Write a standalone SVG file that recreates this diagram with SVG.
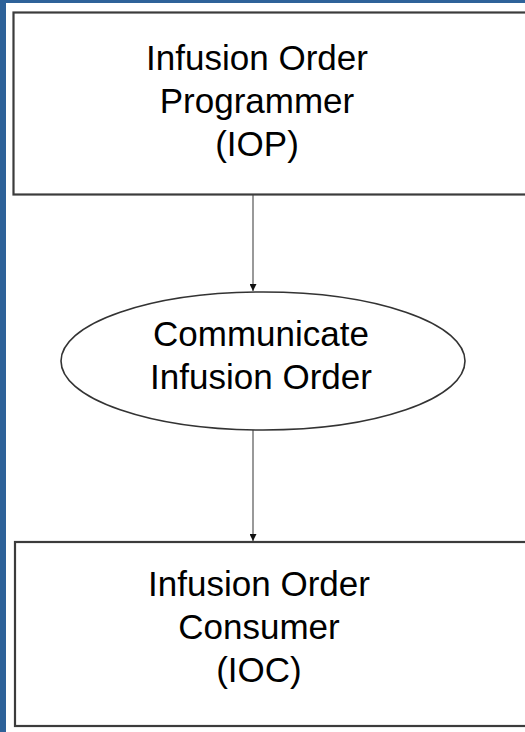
<svg xmlns="http://www.w3.org/2000/svg" width="525" height="732" viewBox="0 0 525 732">
<defs>
<style>
.box{fill:#fff;stroke:#3c3c3c;stroke-width:2.2}
.ell{fill:#fff;stroke:#333;stroke-width:1.6}
.t{font-family:"Liberation Sans",Arial,sans-serif;font-size:35px;fill:#000;text-anchor:middle}
.c{stroke:#555;stroke-width:1.2;fill:none}
</style>
<marker id="ah" viewBox="0 0 8 8" refX="8" refY="4" markerWidth="7" markerHeight="7" markerUnits="userSpaceOnUse" orient="auto">
<path d="M0,0 L8,4 L0,8 z" fill="#111"/>
</marker>
</defs>
<rect x="0" y="0" width="525" height="732" fill="#fff"/>
<rect x="0" y="0" width="6" height="732" fill="#2e6299"/>
<rect x="0" y="0" width="525" height="3" fill="#2e6299"/>
<g id="connectors">
<line class="c" x1="253" y1="195" x2="253" y2="291" marker-end="url(#ah)"/>
<line class="c" x1="253" y1="430" x2="253" y2="541" marker-end="url(#ah)"/>
</g>
<g id="iop">
<rect class="box" x="13.5" y="12.5" width="515" height="182"/>
<text class="t" x="257" y="70">Infusion Order</text>
<text class="t" x="257" y="113">Programmer</text>
<text class="t" x="257" y="156">(IOP)</text>
</g>
<g id="communicate">
<ellipse class="ell" cx="263" cy="361" rx="202" ry="69"/>
<text class="t" x="261" y="346">Communicate</text>
<text class="t" x="261" y="389">Infusion Order</text>
</g>
<g id="ioc">
<rect class="box" x="15" y="542" width="515" height="184"/>
<text class="t" x="259" y="596">Infusion Order</text>
<text class="t" x="259" y="639">Consumer</text>
<text class="t" x="259" y="682">(IOC)</text>
</g>
</svg>
